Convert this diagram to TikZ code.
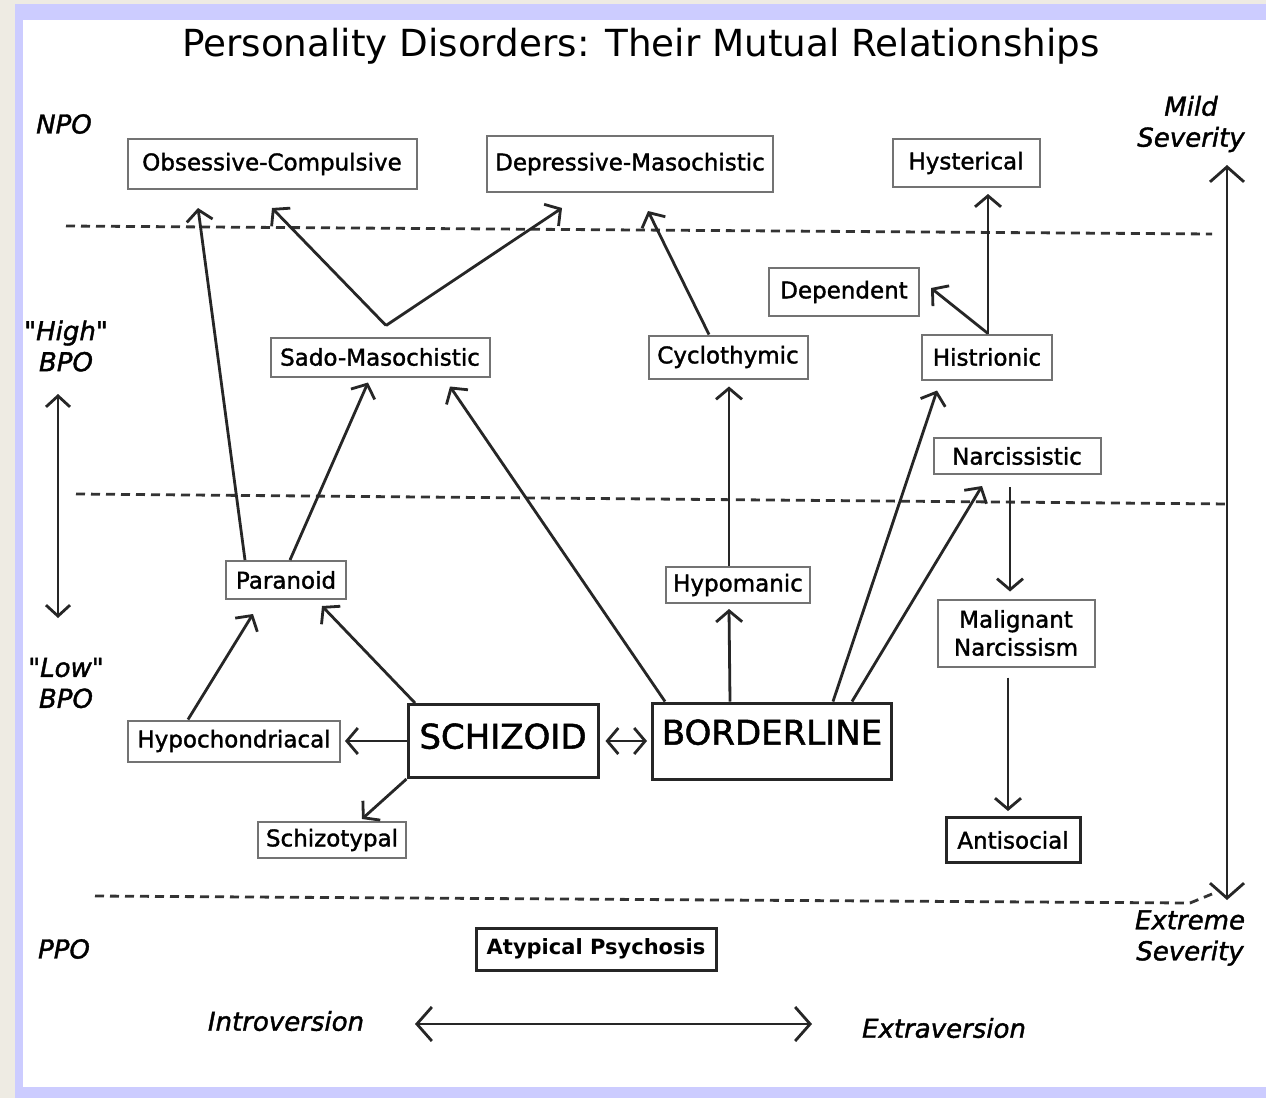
\documentclass[tikz,border=0pt]{standalone}
\usepackage{fontspec}
\setmainfont{DejaVu Sans}
\newfontfamily\heavyfont[FakeBold=1.5]{DejaVu Sans}
\usetikzlibrary{arrows.meta,calc}
\definecolor{lavender}{HTML}{CCCCFF}
\definecolor{paper}{HTML}{EEEBE3}

\tikzset{
  pd/.style={draw=black!55, line width=2pt, fill=white, inner sep=0pt, align=center, font=\heavyfont\fontsize{23}{28}\selectfont},
  core/.style={pd, draw=black!85, line width=3pt, font=\heavyfont\fontsize{34}{40}\selectfont},
  heavy/.style={pd, draw=black!85, line width=3pt},
  lvl/.style={inner sep=0pt, align=center, font=\heavyfont\fontsize{26}{31}\selectfont\itshape},
  link/.style={draw=black!85, line width=2.8pt, -{Straight Barb[length=11pt,width=26pt]}},
  both/.style={link, {Straight Barb[length=11pt,width=26pt]}-{Straight Barb[length=11pt,width=26pt]}},
  axis/.style={draw=black!85, line width=2.8pt, {Straight Barb[length=15pt,width=34pt]}-{Straight Barb[length=15pt,width=34pt]}},
  divider/.style={draw=black!80, line width=2.8pt, dash pattern=on 9pt off 6pt},
}

\begin{document}
\begin{tikzpicture}[x=1pt,y=-1pt]
  % Frame
  \useasboundingbox (0,0) rectangle (1266,1098);
  \fill[paper] (0,0) rectangle (1266,1098);
  \fill[lavender] (15,4) rectangle (1266,1098);
  \fill[white] (23,20) rectangle (1266,1087);

  \node (title) at (641,46) {\fontsize{37.3}{41}\selectfont Personality Disorders: Their Mutual Relationships};

  % Level labels
  \node[lvl] (npo) at (64,124) {NPO};
  \node[lvl] (hbpo) at (66,346) {\textquotedbl High\textquotedbl\\BPO};
  \node[lvl] (lbpo) at (66,683) {\textquotedbl Low\textquotedbl\\BPO};
  \node[lvl] (ppo) at (64,949) {PPO};
  \node[lvl] (mild) at (1191,124) {Mild\\Severity};
  \node[lvl] (extreme) at (1190,938) {Extreme\\Severity};
  \node[lvl] (intro) at (286,1021) {Introversion};
  \node[lvl] (extra) at (944,1028) {Extraversion};

  % Dividers
  \coordinate (d1a) at (66,226);  \coordinate (d1b) at (1212,234);
  \coordinate (d2a) at (76,494);  \coordinate (d2b) at (1230,504);
  \coordinate (d3a) at (95,896);  \coordinate (d3b) at (1190,903);
  \coordinate (d3c) at (1212,894);
  \draw[divider] (d1a) -- (d1b);
  \draw[divider] (d2a) -- (d2b);
  \draw[divider] (d3a) -- (d3b) -- (d3c);

  % NPO row
  \node[pd, minimum width=289, minimum height=50] (oc) at (272,164) {Obsessive-Compulsive};
  \node[pd, minimum width=286, minimum height=56] (dm) at (630,164) {Depressive-Masochistic};
  \node[pd, minimum width=147, minimum height=48] (hys) at (966,163) {Hysterical};

  % High BPO
  \node[pd, minimum width=150, minimum height=48] (dep) at (844,292) {Dependent};
  \node[pd, minimum width=219, minimum height=39] (sm) at (380,357) {Sado-Masochistic};
  \node[pd, minimum width=159, minimum height=43] (cyc) at (728,357) {Cyclothymic};
  \node[pd, minimum width=130, minimum height=45] (his) at (987,357) {Histrionic};
  \node[pd, minimum width=167, minimum height=36] (nar) at (1017,456) {Narcissistic};

  % Low BPO
  \node[pd, minimum width=120, minimum height=38] (par) at (286,580) {Paranoid};
  \node[pd, minimum width=144, minimum height=36] (hypo) at (738,585) {Hypomanic};
  \node[pd, minimum width=157, minimum height=67] (mal) at (1016,633) {Malignant\\Narcissism};
  \node[pd, minimum width=212, minimum height=41] (hyc) at (234,741) {Hypochondriacal};
  \node[core, minimum width=190, minimum height=73, text depth=10pt] (sch) at (503,741) {SCHIZOID};
  \node[core, minimum width=239, minimum height=76, text depth=18pt] (bor) at (772,741) {BORDERLINE};
  \node[pd, minimum width=148, minimum height=36] (szt) at (332,840) {Schizotypal};
  \node[heavy, minimum width=134, minimum height=45] (ant) at (1013,840) {Antisocial};

  % PPO
  \node[heavy, minimum width=240, minimum height=42, font=\fontsize{21}{25}\selectfont\bfseries] (aty) at (596,949) {Atypical Psychosis};

  % Links
  \coordinate (smtop) at ([xshift=6pt,yshift=11pt]sm.north);
  \draw[link] ([xshift=-41pt]par.north) -- ([xshift=-74pt,yshift=-18pt]oc.south);
  \draw[link] ([xshift=4pt]par.north) -- ([xshift=-12pt,yshift=-5pt]sm.south);
  \draw[link] (smtop) -- ([yshift=-18pt]oc.south);
  \draw[link] (smtop) -- ([xshift=-68pt,yshift=-15pt]dm.south);
  \draw[link] ([xshift=-19pt]cyc.north) -- ([xshift=18pt,yshift=-18pt]dm.south);
  \draw[link] ([xshift=-9pt]hypo.north) -- ([xshift=1pt,yshift=-7pt]cyc.south);
  \draw[link] ([xshift=-42pt]bor.north) -- ([xshift=-9pt,yshift=-5pt]hypo.south);
  \draw[link] ([xshift=-107pt]bor.north) -- ([xshift=70pt,yshift=-9pt]sm.south);
  \draw[link] ([xshift=61pt]bor.north) -- ([xshift=-50pt,yshift=-10pt]his.south);
  \draw[link] ([xshift=80pt]bor.north) -- ([xshift=-35pt,yshift=-11pt]nar.south);
  \draw[link] ([xshift=1pt]his.north) -- ([xshift=22pt,yshift=-6pt]hys.south);
  \draw[link] ([xshift=1pt]his.north) -- ([xshift=11pt,yshift=4pt]dep.east);
  \draw[link] ([xshift=-7pt,yshift=-12pt]nar.south) -- ([xshift=-6pt,yshift=7pt]mal.north);
  \draw[link] ([xshift=-8pt,yshift=-10pt]mal.south) -- ([xshift=-5pt,yshift=5pt]ant.north);
  \draw[link] ([xshift=-88pt]sch.north) -- ([xshift=36pt,yshift=-6pt]par.south);
  \draw[both] ([xshift=6pt]sch.east) -- ([xshift=-4pt]bor.west);
  \draw[link] (sch.west) -- ([xshift=4pt]hyc.east);
  \draw[link] (sch.south west) -- ([xshift=30pt,yshift=2pt]szt.north);
  \draw[link] ([xshift=-46pt]hyc.north) -- ([xshift=-33pt,yshift=-14pt]par.south);

  % Axes
  \coordinate (bpotop) at (58,394);  \coordinate (bpobot) at (58,618);
  \coordinate (sevtop) at (1227,165); \coordinate (sevbot) at (1227,900);
  \coordinate (introend) at (415,1024); \coordinate (extraend) at (812,1024);
  \draw[axis, {Straight Barb[length=11pt,width=24pt]}-{Straight Barb[length=11pt,width=24pt]}] (bpotop) -- (bpobot);
  \draw[axis] (sevtop) -- (sevbot);
  \draw[axis] (introend) -- (extraend);
\end{tikzpicture}
\end{document}
